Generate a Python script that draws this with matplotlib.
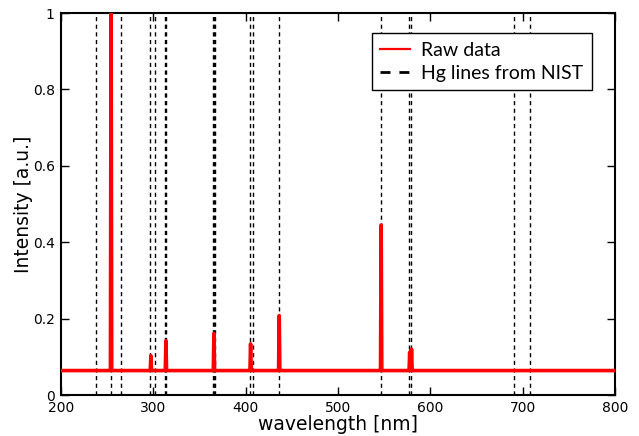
import numpy as np
import matplotlib
matplotlib.use("Agg")
import matplotlib.pyplot as plt
from matplotlib.lines import Line2D

baseline = 0.064
peak_nm = [254.2, 297.3, 313.6, 365.6, 405.3, 436.3, 546.7, 577.6, 579.6]
peak_int = [1.05, 0.103, 0.142, 0.161, 0.134, 0.208, 0.445, 0.112, 0.120]

# Hg lines from NIST [nm]
nist_nm = [237.83, 253.65, 265.20, 296.73, 302.15, 312.57, 313.15,
           365.02, 365.48, 366.33, 404.66, 407.78, 435.83, 546.07,
           576.96, 579.07, 690.75, 708.19]

# build the trace as a polyline: flat baseline, one spike per peak
wl = [200.0]
inten = [baseline]
for p, h in zip(peak_nm, peak_int):
    wl += [p - 0.7, p, p + 0.7]
    inten += [baseline, h, baseline]
wl.append(800.0)
inten.append(baseline)

fig = plt.figure(figsize=(6.39, 4.36), dpi=100)
ax = fig.add_axes([0.0955, 0.094, 0.867, 0.876])

ax.plot(wl, inten, color='red', lw=2.6, zorder=3)
for n in nist_nm:
    ax.axvline(n, color='k', lw=1.0, ls=(0, (3, 2.5)), zorder=2)

ax.set_xlim(200, 800)
ax.set_ylim(0, 1)
ax.set_xticks([200, 300, 400, 500, 600, 700, 800])
ax.set_yticks([0, 0.2, 0.4, 0.6, 0.8, 1.0])
ax.set_yticklabels(['0', '0.2', '0.4', '0.6', '0.8', '1'])
ax.tick_params(direction='in', length=6, width=1, top=True, right=True,
               labelsize=10, pad=4.5)
for s in ax.spines.values():
    s.set_linewidth(1.5)

ax.set_xlabel('wavelength [nm]', fontsize=13.5, labelpad=0)
ax.set_ylabel('Intensity [a.u.]', fontsize=13.5, labelpad=0)

handles = [Line2D([], [], color='red', lw=1.6),
           Line2D([], [], color='k', lw=2, ls=(0, (3.6, 3.2)))]
leg = ax.legend(handles, ['Raw data', 'Hg lines from NIST'],
                loc='upper right', bbox_to_anchor=(0.9585, 0.9476),
                borderaxespad=0, prop={'family': 'Lato', 'size': 14},
                fancybox=False, framealpha=1, edgecolor='k',
                handlelength=1.55, handletextpad=0.55,
                borderpad=0.45, labelspacing=0.3)
leg.get_frame().set_linewidth(1.0)

fig.savefig('out.png', dpi=100)
